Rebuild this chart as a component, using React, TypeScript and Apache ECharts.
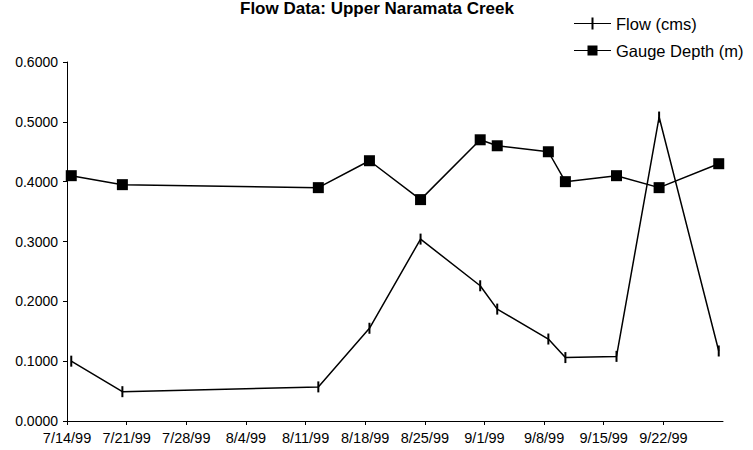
import React, { useEffect, useRef } from "react";
import * as echarts from "echarts";

const TITLE = "Flow Data: Upper Naramata Creek";
const SERIES_NAMES = ["Flow (cms)", "Gauge Depth (m)"];
const AXIS_START = "1999-07-14";
const AXIS_DAYS = 77; // 7/14/99 .. 9/29/99
const DATES = [
  "1999-07-14", "1999-07-20", "1999-08-12", "1999-08-18", "1999-08-24", "1999-08-31",
  "1999-09-02", "1999-09-08", "1999-09-10", "1999-09-16", "1999-09-21", "1999-09-28",
];
const FLOW = [0.100, 0.049, 0.057, 0.155, 0.304, 0.226, 0.187, 0.137, 0.106, 0.108, 0.508, 0.117];
const DEPTH = [0.410, 0.395, 0.390, 0.435, 0.370, 0.470, 0.460, 0.450, 0.400, 0.410, 0.390, 0.430];

const DAY = 86400000;
const startMs = Date.parse(AXIS_START + "T00:00:00Z");
// Excel date axis plots each point in the middle of its day
const dayPos = (d: string) => (Date.parse(d + "T00:00:00Z") - startMs) / DAY + 0.5;
const fmtDate = (v: number) => {
  const dt = new Date(startMs + v * DAY);
  return `${dt.getUTCMonth() + 1}/${dt.getUTCDate()}/${String(dt.getUTCFullYear()).slice(2)}`;
};

export default function App() {
  const ref = useRef<HTMLDivElement>(null);
  useEffect(() => {
    if (!ref.current) return;
    const chart = echarts.init(ref.current, null, { renderer: "svg" });
    const font = "'Liberation Sans', Arial, sans-serif";
    chart.setOption({
      animation: false,
      backgroundColor: "#ffffff",
      textStyle: { fontFamily: font },
      title: {
        text: TITLE,
        left: 240,
        top: 0,
        padding: 0,
        textStyle: { fontFamily: font, fontSize: 17, fontWeight: "bold", color: "#000" },
      },
      legend: {
        orient: "vertical",
        left: 574,
        top: 15,
        padding: 0,
        itemWidth: 37,
        itemHeight: 12,
        itemGap: 10,
        textStyle: { fontFamily: font, fontSize: 16.5, color: "#000" },
        data: [
          { name: SERIES_NAMES[0], icon: "path://M0,5.4h37v1.2h-37z M17.5,0h2v12h-2z" },
          { name: SERIES_NAMES[1], icon: "path://M0,5.4h37v1.2h-37z M13.5,1h10v10h-10z" },
        ],
      },
      grid: { left: 67, right: 30, top: 62, bottom: 29, containLabel: false },
      xAxis: {
        type: "value",
        min: 0,
        max: AXIS_DAYS,
        interval: 7,
        splitLine: { show: false },
        axisLine: { lineStyle: { color: "#000", width: 1 } },
        axisTick: { length: 4, lineStyle: { color: "#000" } },
        axisLabel: {
          color: "#000",
          fontSize: 14.5,
          fontFamily: font,
          margin: 9,
          showMaxLabel: false,
          formatter: (v: number) => (v >= AXIS_DAYS ? "" : fmtDate(v)),
        },
      },
      yAxis: {
        type: "value",
        min: 0,
        max: 0.6,
        interval: 0.1,
        splitLine: { show: false },
        axisLine: { show: true, lineStyle: { color: "#000", width: 1 } },
        axisTick: { show: true, length: 4, lineStyle: { color: "#000" } },
        axisLabel: {
          color: "#000",
          fontSize: 14,
          fontFamily: font,
          margin: 9,
          formatter: (v: number) => v.toFixed(4),
        },
      },
      series: [
        {
          name: SERIES_NAMES[0],
          type: "line",
          data: DATES.map((d, i) => [dayPos(d), FLOW[i]]),
          symbol: "rect",
          symbolSize: [2, 11],
          itemStyle: { color: "#000" },
          lineStyle: { color: "#000", width: 1.5 },
        },
        {
          name: SERIES_NAMES[1],
          type: "line",
          data: DATES.map((d, i) => [dayPos(d), DEPTH[i]]),
          symbol: "rect",
          symbolSize: 11,
          itemStyle: { color: "#000" },
          lineStyle: { color: "#000", width: 1.5 },
        },
      ],
    });
    return () => chart.dispose();
  }, []);
  return (
    <div
      ref={ref}
      style={{ position: "fixed", left: 0, top: 0, width: 753, height: 450, background: "#fff" }}
    />
  );
}
